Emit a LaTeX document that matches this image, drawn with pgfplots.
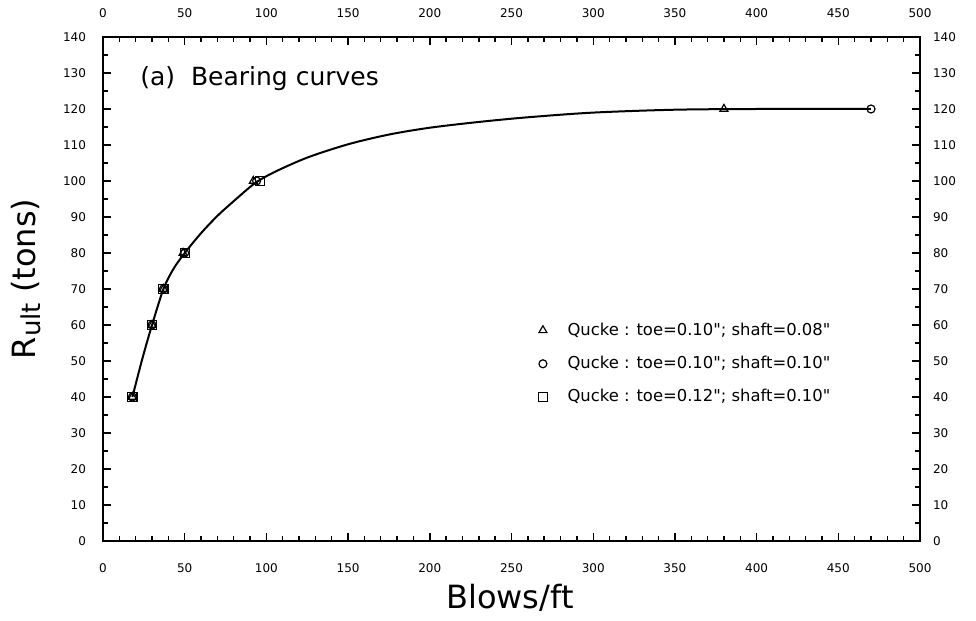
\documentclass[border=0pt]{standalone}
\usepackage{pgfplots}
\pgfplotsset{compat=1.18}
\usepackage{fontspec}
\setmainfont{DejaVu Sans}[Ligatures=TeXOff]
\begin{document}
\begin{tikzpicture}
\pgfplotsset{
  common/.style={
    scale only axis, width=408.5pt, height=252pt,
    xmin=0, xmax=500, ymin=0, ymax=140,
    xtick={0,50,...,500}, ytick={0,10,...,140},
    minor x tick num=4, minor y tick num=1,
    tick align=inside, major tick length=4pt, minor tick length=2.5pt,
    /pgf/number format/assume math mode=true,
    ticklabel style={font=\fontsize{6}{7}\selectfont},
  }
}
\begin{axis}[common, name=ax,
  axis line style={line width=0.8pt},
  tick style={line width=0.7pt, black},
  xticklabel style={yshift=-8pt},
  yticklabel style={xshift=-5pt},
  xlabel={Blows/ft},
  ylabel={R{\fontsize{13}{13}\selectfont\raisebox{-0.35ex}{ult}} (tons)},
  xlabel style={at={(axis description cs:0.498,-0.113)}, anchor=center, font=\fontsize{16}{18}\selectfont},
  ylabel style={at={(axis description cs:-0.0943,0.52)}, anchor=center, font=\fontsize{16}{18}\selectfont},
  legend style={at={(axis cs:262.5,63)}, anchor=north west, draw=none, fill=none,
    font=\fontsize{8.2}{9.5}\selectfont, row sep=5pt,
    /tikz/every odd column/.append style={column sep=8pt}},
  legend cell align=left,
]
\addplot[black, line width=1pt, smooth, tension=0.5, forget plot] coordinates {
 (18,40) (24,50.5) (30,60) (37,70) (43,75.5) (50,80) (60,85.5) (70,90.3) (80,94.4)
 (93,99.4) (105,102.5) (125,106.5) (150,110.2) (175,112.9) (200,114.8) (230,116.4)
 (260,117.7) (300,119) (350,119.8) (400,120) (470,120)};
\addplot[only marks, mark=triangle, mark size=2.3pt, black, mark options={line width=0.6pt}] coordinates {
 (18,40) (30,60) (37,70) (49,80) (92,100) (380,120)};
\addlegendentry{Qucke : toe=0.10"; shaft=0.08"}
\addplot[only marks, mark=o, mark size=2pt, black, mark options={line width=0.6pt}] coordinates {
 (18,40) (30,60) (37,70) (50,80) (94,100) (470,120)};
\addlegendentry{Qucke : toe=0.10"; shaft=0.10"}
\addplot[only marks, mark=square, mark size=2.3pt, black, mark options={line width=0.6pt}] coordinates {
 (18,40) (30,60) (37,70) (50,80) (96,100)};
\addlegendentry{Qucke : toe=0.12"; shaft=0.10"}
\node[anchor=west, inner sep=0pt, font=\fontsize{12.5}{14}\selectfont] at (axis cs:22.6,128.5) {(a)\ \ Bearing curves};
\end{axis}
\begin{axis}[common,
  xticklabel pos=upper, yticklabel pos=right,
  tick style={draw=none}, axis line style={draw=none},
  xticklabel style={yshift=6pt},
  yticklabel style={xshift=3pt},
]
\end{axis}
\path ([xshift=-51.5pt,yshift=-39.5pt]ax.south west) rectangle ([xshift=28pt,yshift=18.5pt]ax.north east);
\end{tikzpicture}
\end{document}
